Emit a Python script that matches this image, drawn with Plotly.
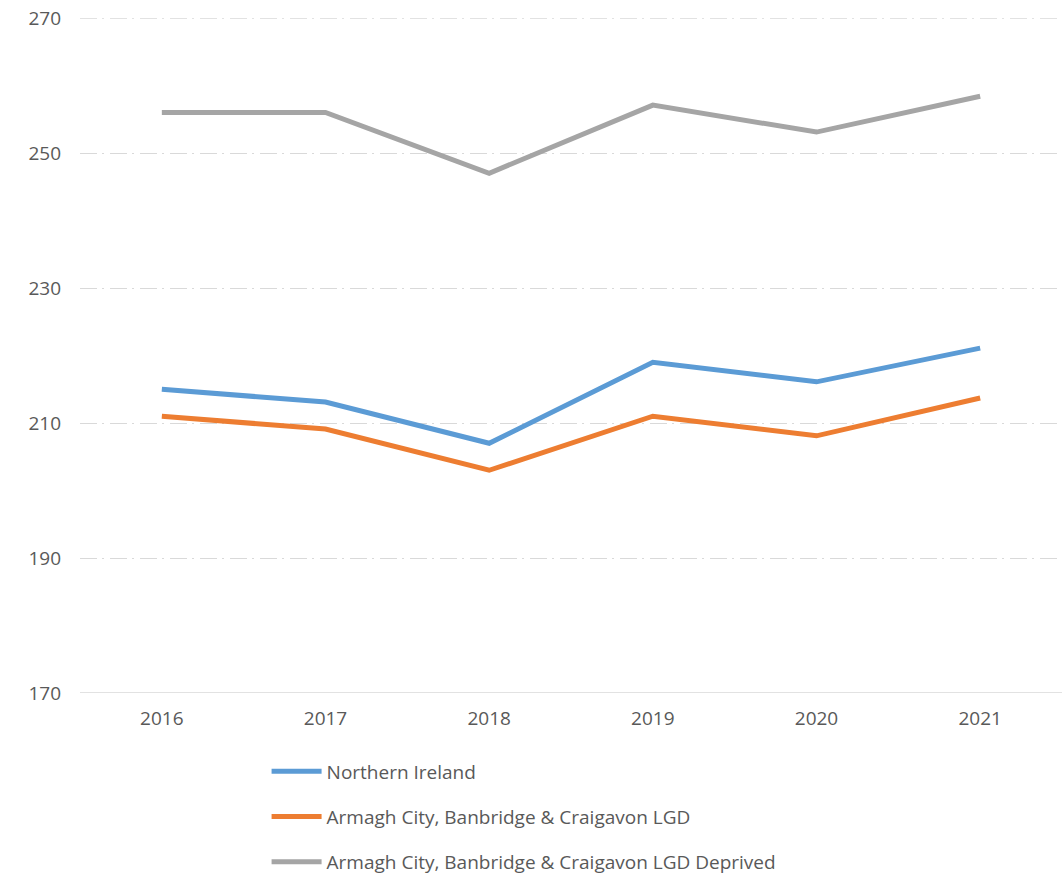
import plotly.graph_objects as go

years = ["2016", "2017", "2018", "2019", "2020", "2021"]
northern_ireland = [215.0, 213.1, 207.0, 219.0, 216.1, 221.1]
abc_lgd = [211.0, 209.1, 203.0, 211.0, 208.1, 213.7]
abc_lgd_deprived = [256.0, 256.0, 247.0, 257.1, 253.1, 258.4]

series_names = [
    "Northern Ireland",
    "Armagh City, Banbridge & Craigavon LGD",
    "Armagh City, Banbridge & Craigavon LGD Deprived",
]
colors = ["#5B9BD5", "#ED7D31", "#A5A5A5"]
y_ticks = [170, 190, 210, 230, 250, 270]

fig = go.Figure()
for i, (name, vals) in enumerate(zip(series_names, [northern_ireland, abc_lgd, abc_lgd_deprived])):
    fig.add_trace(go.Scatter(
        x=years, y=vals, mode="lines", name=name,
        legendgroup=f"g{i}",
        line=dict(color=colors[i], width=5),
    ))

grid_color = "#D9D9D9"
grid_dash = "17px,5px,2px,6px"
font_family = "Open Sans, Liberation Sans, sans-serif"
fig.update_layout(
    width=1064, height=878,
    margin=dict(l=80, r=2, t=18, b=185, autoexpand=False),
    paper_bgcolor="white", plot_bgcolor="white",
    font=dict(family=font_family, size=19, color="#595959"),
    showlegend=True,
    legend=dict(
        orientation="v", x=0.19, xanchor="left",
        yref="container", y=0.143, yanchor="top",
        font=dict(size=19, color="#595959"),
        tracegroupgap=17.5, itemwidth=50,
    ),
    xaxis=dict(
        type="category", range=[-0.5, 5.5], showgrid=False,
        showline=False, ticks="", ticklabelstandoff=12,
        tickfont=dict(size=19, color="#595959"),
    ),
    yaxis=dict(
        range=[170, 270], tickvals=y_ticks, showgrid=True,
        gridcolor=grid_color, gridwidth=1.3, griddash=grid_dash,
        zeroline=False, showline=False, ticks="", ticklabelstandoff=18,
        tickfont=dict(size=19, color="#595959"),
    ),
)
fig.add_shape(type="line", xref="paper", yref="y", x0=0, x1=1, y0=170, y1=170,
              line=dict(color=grid_color, width=1.5), layer="below")
fig.add_shape(type="line", xref="paper", yref="y", x0=0, x1=1, y0=270, y1=270,
              line=dict(color=grid_color, width=1.3, dash=grid_dash), layer="below")

fig.write_html("out.html")
